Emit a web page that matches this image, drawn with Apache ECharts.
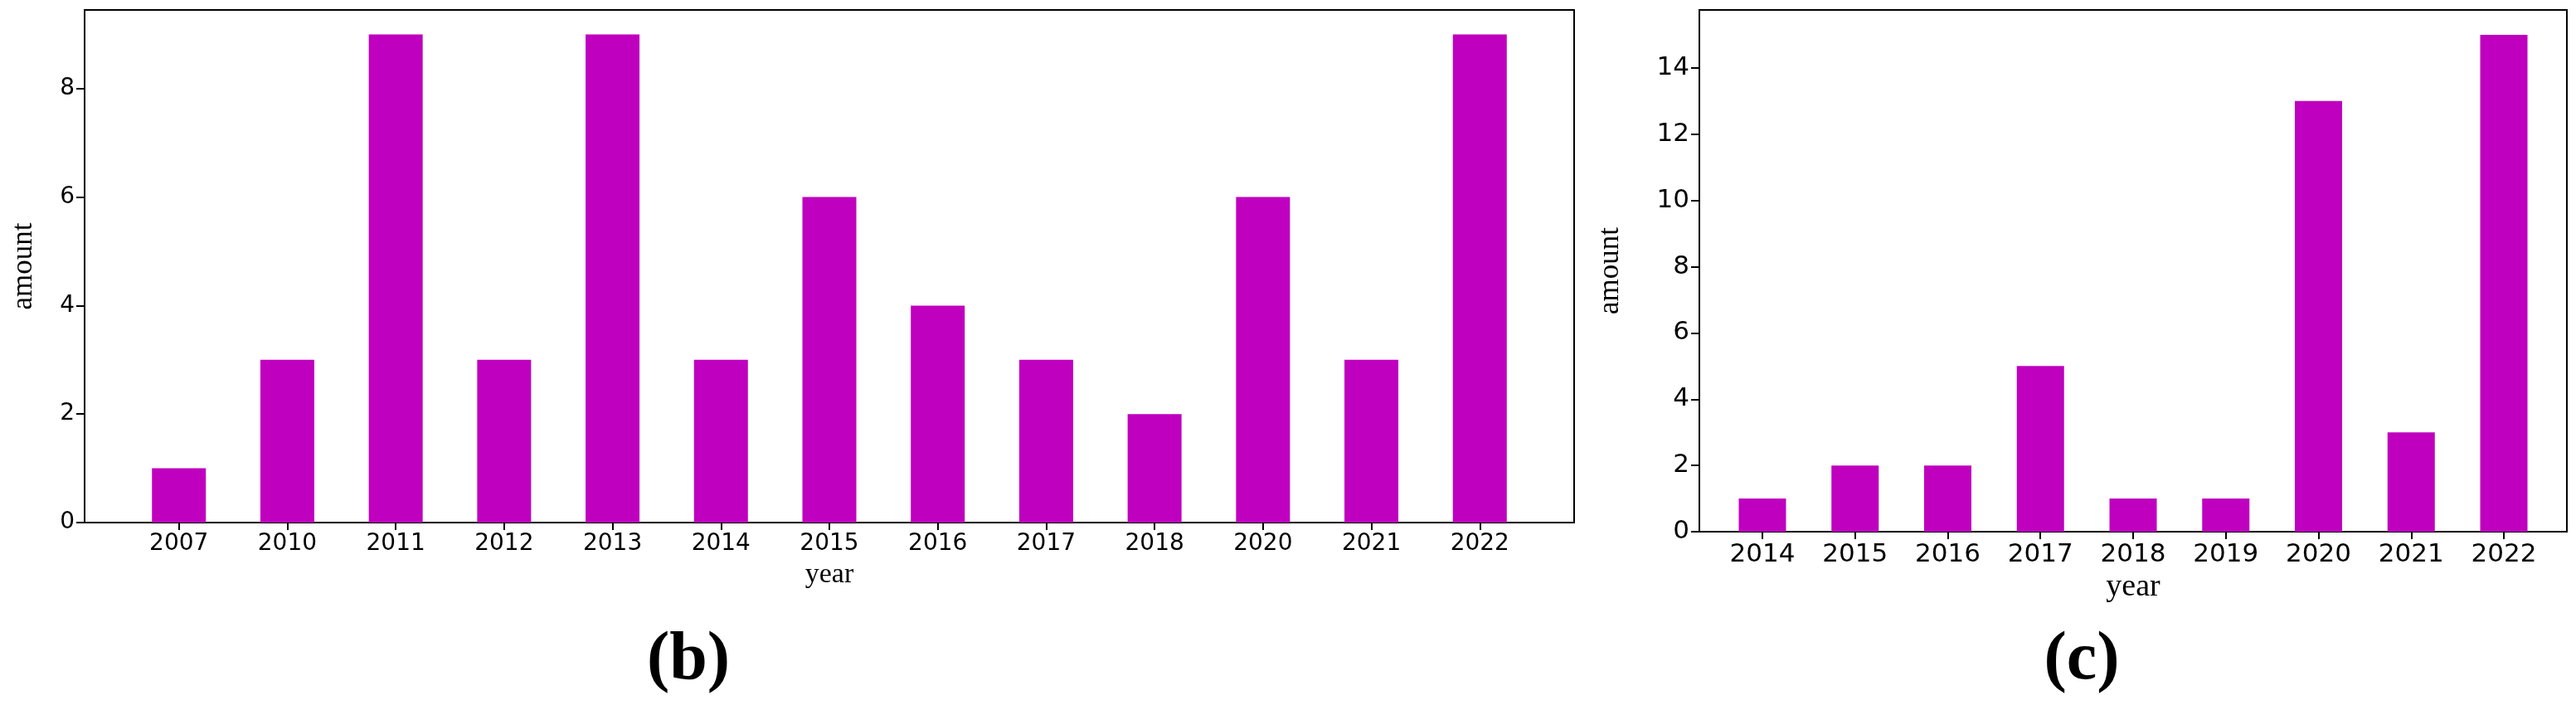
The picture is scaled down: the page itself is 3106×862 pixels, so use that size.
<!DOCTYPE html>
<html>
<head>
<meta charset="utf-8">
<title>amount per year</title>
<script src="https://cdn.jsdelivr.net/npm/echarts@6/dist/echarts.min.js"></script>
<style>
	html, body { margin: 0; padding: 0; background: #fff; }
	#chart { width: 3106px; height: 862px; }
</style>
</head>
<body>
<div id="chart"></div>
<script>
// (b) 左图数据
var yearsB = ['2007', '2010', '2011', '2012', '2013', '2014', '2015', '2016', '2017', '2018', '2020', '2021', '2022'];
var amountB = [1, 3, 9, 3, 9, 3, 6, 4, 3, 2, 6, 3, 9];
var yTicksB = [0, 2, 4, 6, 8];

// (c) 右图数据
var yearsC = ['2014', '2015', '2016', '2017', '2018', '2019', '2020', '2021', '2022'];
var amountC = [1, 2, 2, 5, 1, 1, 13, 3, 15];
var yTicksC = [0, 2, 4, 6, 8, 10, 12, 14];

var barColor = '#bf00bf';

function indexList(list) {
	return list.map(function(item, index) {
		return index;
	});
}

function pairs(values) {
	return values.map(function(v, i) {
		return [i, v];
	});
}

// x轴：数值轴，刻度只放在每个年份上
function makeXAxis(gridIndex, years, pad, fontSize, nameSize) {
	var idx = indexList(years);
	return {
		type : 'value',
		gridIndex : gridIndex,
		min : -pad,
		max : years.length - 1 + pad,
		name : 'year',
		nameLocation : 'middle',
		nameGap : 46,
		nameTextStyle : { fontFamily : 'Liberation Serif', fontSize : nameSize, color : '#000' },
		axisLine : { show : true, onZero : false, lineStyle : { color : '#000', width : 2 } },
		axisTick : { show : true, length : 9, customValues : idx, lineStyle : { color : '#000', width : 2 } },
		axisLabel : {
			customValues : idx,
			margin : 12,
			fontFamily : 'DejaVu Sans',
			fontSize : fontSize,
			color : '#000',
			formatter : function(v) {
				return years[Math.round(v)];
			}
		},
		splitLine : { show : false }
	};
}

function makeYAxis(gridIndex, ticks, max, gap, fontSize) {
	return {
		type : 'value',
		gridIndex : gridIndex,
		min : 0,
		max : max,
		name : 'amount',
		nameLocation : 'middle',
		nameGap : gap,
		nameTextStyle : { fontFamily : 'Liberation Serif', fontSize : 35, color : '#000' },
		axisLine : { show : true, onZero : false, lineStyle : { color : '#000', width : 2 } },
		axisTick : { show : true, length : 10, customValues : ticks, lineStyle : { color : '#000', width : 2 } },
		axisLabel : {
			customValues : ticks,
			margin : 12,
			fontFamily : 'DejaVu Sans',
			fontSize : fontSize,
			color : '#000'
		},
		splitLine : { show : false }
	};
}

var myChart = echarts.init(document.getElementById('chart'), null, { renderer : 'canvas' });

var option = {
	backgroundColor : '#fff',
	animation : false,
	grid : [ {
		left : 102, right : 1208, top : 12, bottom : 232,
		show : true, borderColor : '#000', borderWidth : 2, backgroundColor : 'transparent'
	}, {
		left : 2049, right : 11, top : 12, bottom : 221,
		show : true, borderColor : '#000', borderWidth : 2, backgroundColor : 'transparent'
	} ],
	xAxis : [ makeXAxis(0, yearsB, 0.87, 28, 34), makeXAxis(1, yearsC, 0.68, 31, 38) ],
	yAxis : [ makeYAxis(0, yTicksB, 9.45, 56, 28), makeYAxis(1, yTicksC, 15.75, 90, 31) ],
	series : [ {
		type : 'bar',
		xAxisIndex : 0,
		yAxisIndex : 0,
		barWidth : 65,
		itemStyle : { color : barColor },
		data : pairs(amountB)
	}, {
		type : 'bar',
		xAxisIndex : 1,
		yAxisIndex : 1,
		barWidth : 57,
		itemStyle : { color : barColor },
		data : pairs(amountC)
	} ],
	// 子图标号
	graphic : [ {
		type : 'text',
		x : 830, y : 797,
		style : {
			text : '(b)', fill : '#000',
			font : 'bold 82px "Liberation Serif"',
			textAlign : 'center', textVerticalAlign : 'middle'
		}
	}, {
		type : 'text',
		x : 2510, y : 797,
		style : {
			text : '(c)', fill : '#000',
			font : 'bold 82px "Liberation Serif"',
			textAlign : 'center', textVerticalAlign : 'middle'
		}
	} ]
};

myChart.setOption(option);
</script>
</body>
</html>
